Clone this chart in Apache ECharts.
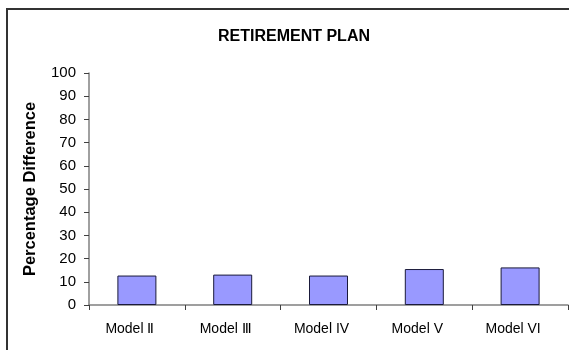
<!DOCTYPE html>
<html>
<head>
<meta charset="utf-8">
<script src="https://cdn.jsdelivr.net/npm/echarts@6/dist/echarts.min.js"></script>
<style>
html,body{margin:0;padding:0;background:#fff;}
#chart{width:569px;height:350px;}
</style>
</head>
<body>
<div id="chart"></div>
<script>
const categories = ["Model \u2161", "Model \u2162", "Model IV", "Model V", "Model VI"];
const values = [12.7, 13.1, 12.7, 15.5, 16.2];
const yTicks = [0, 10, 20, 30, 40, 50, 60, 70, 80, 90, 100];

const chart = echarts.init(document.getElementById('chart'), null, {renderer: 'canvas'});
const font = '"Liberation Sans", Arial, sans-serif';
chart.setOption({
  animation: false,
  backgroundColor: '#ffffff',
  title: {
    text: 'RETIREMENT PLAN',
    left: 289,
    textAlign: 'center',
    top: 24,
    textStyle: {fontFamily: font, fontSize: 16, fontWeight: 'bold', color: '#000'}
  },
  graphic: [{
    type: 'rect',
    shape: {x: 7, y: 9, width: 620, height: 400},
    style: {fill: 'none', stroke: '#333', lineWidth: 2},
    silent: true
  }],
  grid: {left: 89, right: 1, top: 73, bottom: 45, containLabel: false},
  xAxis: {
    type: 'category',
    data: categories,
    axisLine: {lineStyle: {color: '#808080', width: 1.5}},
    axisTick: {show: true, alignWithLabel: false, length: 5, inside: false, lineStyle: {color: '#404040'}},
    axisLabel: {fontFamily: font, fontSize: 14, color: '#000', margin: 17, padding: [0, 14, 0, 0]}
  },
  yAxis: {
    type: 'value',
    min: yTicks[0],
    max: yTicks[yTicks.length - 1],
    interval: 10,
    name: 'Percentage Difference',
    nameLocation: 'middle',
    nameGap: 50,
    nameRotate: 90,
    nameTextStyle: {fontFamily: font, fontSize: 16.5, fontWeight: 'bold', color: '#000'},
    axisLine: {show: true, lineStyle: {color: '#808080', width: 1.5}},
    axisTick: {show: true, length: 5, lineStyle: {color: '#404040'}},
    splitLine: {show: false},
    axisLabel: {fontFamily: font, fontSize: 15, color: '#000', margin: 13}
  },
  series: [{
    type: 'bar',
    data: values,
    barWidth: 39,
    itemStyle: {color: '#9999FF', borderColor: '#1a1a3a', borderWidth: 1}
  }]
});
</script>
</body>
</html>
